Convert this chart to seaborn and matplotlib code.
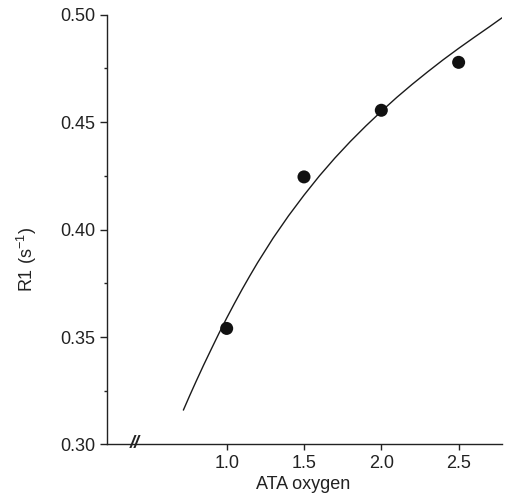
import matplotlib
matplotlib.use("Agg")
import matplotlib.pyplot as plt
import seaborn as sns
import pandas as pd
from matplotlib.ticker import MultipleLocator

# measured points
ata = [1.0, 1.5, 2.0, 2.5]
r1 = [0.354, 0.4245, 0.4555, 0.4778]

# fitted curve
curve_x = [0.72, 0.76, 0.80, 0.85, 0.90, 0.95, 1.00, 1.05, 1.10, 1.15, 1.20,
           1.30, 1.40, 1.50, 1.60, 1.70, 1.80, 1.90, 2.00, 2.10, 2.20, 2.30,
           2.40, 2.50, 2.60, 2.70, 2.78]
curve_y = [0.316, 0.3226, 0.329, 0.3368, 0.3443, 0.3517, 0.3588, 0.3656,
           0.3722, 0.3785, 0.3846, 0.3960, 0.4064, 0.4160, 0.4250, 0.4333,
           0.4410, 0.4482, 0.4550, 0.4615, 0.4676, 0.4734, 0.4790, 0.4843,
           0.4894, 0.4944, 0.4985]

x_ticks = [1.0, 1.5, 2.0, 2.5]
x_ticklabels = ["1.0", "1.5", "2.0", "2.5"]
y_ticks = [0.30, 0.35, 0.40, 0.45, 0.50]
y_ticklabels = ["0.30", "0.35", "0.40", "0.45", "0.50"]

sns.set_style("ticks")
plt.rcParams["font.family"] = ["Liberation Sans", "DejaVu Sans"]
plt.rcParams["mathtext.default"] = "regular"

pts = pd.DataFrame({"ATA": ata, "R1": r1})
fit = pd.DataFrame({"ATA": curve_x, "R1": curve_y})

fig = plt.figure(figsize=(5.07, 5.01), dpi=100)
ax = fig.add_axes([0.211, 0.1128, 0.779, 0.858])

sns.lineplot(data=fit, x="ATA", y="R1", color="#1a1a1a", linewidth=1.0,
             sort=False, ax=ax)
sns.scatterplot(data=pts, x="ATA", y="R1", color="#111111", s=88,
                edgecolor="none", ax=ax, zorder=3)

ax.set_xlim(0.226, 2.78)
ax.set_ylim(0.30, 0.50)
ax.set_xticks(x_ticks)
ax.set_xticklabels(x_ticklabels)
ax.set_yticks(y_ticks)
ax.set_yticklabels(y_ticklabels)
ax.yaxis.set_minor_locator(MultipleLocator(0.025))

ax.tick_params(axis="both", which="major", labelsize=13, colors="#222222",
               direction="out", width=1.0)
ax.tick_params(axis="y", which="major", length=5)
ax.tick_params(axis="x", which="major", length=4)
ax.tick_params(axis="y", which="minor", length=2.5, width=1.0, color="#222222")

for side in ["top", "right"]:
    ax.spines[side].set_visible(False)
for side in ["left", "bottom"]:
    ax.spines[side].set_color("#222222")
    ax.spines[side].set_linewidth(1.0)

# axis break mark
ax.text(0.406, 0.3003, "//", ha="center", va="center", fontsize=13,
        fontweight="bold", fontstyle="italic", color="#222222")

ax.set_xlabel("ATA oxygen", fontsize=13, color="#222222")
ax.set_ylabel("R1 (s$^{-1}$)", fontsize=13, color="#222222")
ax.xaxis.set_label_coords(0.496, -0.073)
ax.yaxis.set_label_coords(-0.172, 0.43)

fig.savefig("out.png", dpi=100)
